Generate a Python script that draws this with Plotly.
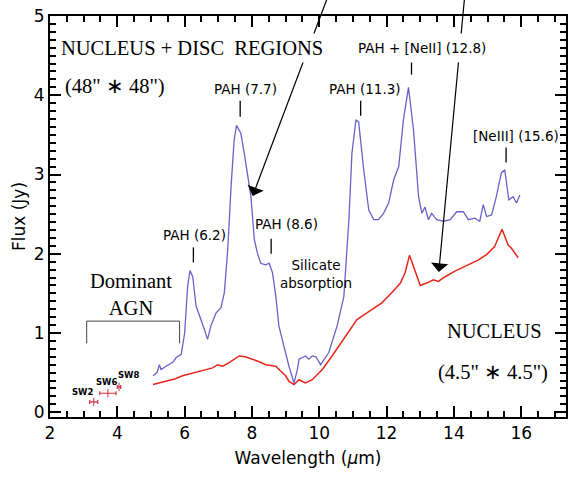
import plotly.graph_objects as go

# ---- data ----
disc_wl = [5.06, 5.18, 5.25, 5.30, 5.45, 5.65, 5.75, 5.90, 6.00, 6.09, 6.16, 6.24, 6.34, 6.49,
           6.59, 6.68, 6.78, 6.93, 7.08, 7.18, 7.28, 7.38, 7.47, 7.54, 7.67, 7.77, 7.87, 7.97,
           8.07, 8.16, 8.26, 8.41, 8.51, 8.61, 8.71, 8.80, 8.95, 9.10, 9.25, 9.35, 9.40, 9.49,
           9.59, 9.69, 9.79, 9.90, 10.04, 10.28, 10.53, 10.73, 10.88, 10.97, 11.09, 11.17,
           11.32, 11.47, 11.62, 11.76, 11.91, 12.06, 12.21, 12.36, 12.50, 12.65, 12.80, 12.95,
           13.05, 13.14, 13.24, 13.34, 13.49, 13.69, 13.89, 14.08, 14.28, 14.43, 14.62, 14.77,
           14.87, 14.97, 15.12, 15.26, 15.41, 15.51, 15.63, 15.76, 15.86, 15.96]
disc_flux = [0.46, 0.50, 0.60, 0.54, 0.58, 0.63, 0.69, 0.73, 1.00, 1.59, 1.79, 1.71, 1.34, 1.17,
             1.04, 0.92, 1.09, 1.25, 1.32, 1.51, 2.05, 2.85, 3.43, 3.62, 3.52, 3.27, 2.97, 2.72,
             2.18, 2.01, 1.88, 1.86, 1.88, 1.76, 1.46, 1.09, 0.83, 0.58, 0.37, 0.54, 0.67, 0.69,
             0.71, 0.67, 0.71, 0.70, 0.60, 0.75, 1.09, 1.46, 2.43, 3.27, 3.69, 3.66,
             3.06, 2.55, 2.43, 2.43, 2.51, 2.64, 2.93, 3.10, 3.69, 4.10, 3.56, 2.72,
             2.51, 2.59, 2.43, 2.51, 2.43, 2.41, 2.43, 2.53, 2.53, 2.43, 2.45, 2.41,
             2.62, 2.47, 2.49, 2.72, 3.02, 3.06, 2.68, 2.72, 2.64, 2.74]

nucleus_wl = [5.06, 5.25, 5.45, 5.70, 5.94, 6.20, 6.44, 6.65, 6.83, 6.98, 7.13, 7.30, 7.42, 7.62,
              7.80, 8.02, 8.20, 8.41, 8.71, 8.85, 9.00, 9.10, 9.25, 9.40, 9.59, 9.79, 10.09,
              10.38, 10.78, 11.12, 11.47, 11.86, 12.16, 12.41, 12.55, 12.68, 12.80, 13.00,
              13.19, 13.39, 13.54, 13.74, 14.03, 14.33, 14.72, 14.97, 15.21, 15.43, 15.61,
              15.71, 15.91]
nucleus_flux = [0.35, 0.37, 0.39, 0.42, 0.46, 0.49, 0.52, 0.54, 0.56, 0.60, 0.58, 0.62, 0.65, 0.71,
                0.70, 0.67, 0.64, 0.60, 0.58, 0.52, 0.46, 0.39, 0.35, 0.41, 0.37, 0.41, 0.54,
                0.71, 0.96, 1.17, 1.27, 1.38, 1.51, 1.63, 1.76, 1.98, 1.84, 1.60,
                1.63, 1.67, 1.65, 1.71, 1.78, 1.84, 1.92, 1.99, 2.09, 2.31, 2.11,
                2.07, 1.95]

sw_names = ["SW2", "SW6", "SW8"]
sw_wl = [3.30, 3.72, 4.05]
sw_halfwidth = [0.12, 0.24, 0.05]
sw_flux = [0.13, 0.24, 0.32]

line_labels = ["PAH (6.2)", "PAH (7.7)", "PAH (8.6)", "PAH (11.3)",
               "PAH + [NeII] (12.8)", "[NeIII] (15.6)"]
line_label_x = [6.29, 7.80, 9.04, 11.35, 13.04, 15.85]
line_label_y = [2.24, 4.08, 2.38, 4.08, 4.60, 3.49]
line_tick_x = [6.26, 7.65, 8.57, 11.23, 12.74, 15.55]
line_tick_top = [2.08, 3.93, 2.19, 3.93, 4.45, 3.34]
line_tick_bot = [1.89, 3.73, 2.00, 3.74, 4.26, 3.15]

x_ticks = [2, 4, 6, 8, 10, 12, 14, 16]
y_ticks = [0, 1, 2, 3, 4, 5]

SANS = "DejaVu Sans"
SERIF = "Liberation Serif"

fig = go.Figure()
fig.add_trace(go.Scatter(x=disc_wl, y=disc_flux, mode="lines",
                         line=dict(color="#6a62c8", width=1.3), showlegend=False))
fig.add_trace(go.Scatter(x=nucleus_wl, y=nucleus_flux, mode="lines",
                         line=dict(color="#e8261c", width=1.5), showlegend=False))
fig.add_trace(go.Scatter(x=sw_wl, y=sw_flux, mode="markers",
                         marker=dict(symbol="line-ns", size=6, color="#c83050",
                                     line=dict(width=1, color="#c83050")),
                         error_x=dict(type="data", array=sw_halfwidth, color="#d03040",
                                      thickness=1.2, width=2),
                         showlegend=False))

annotations = []
# arrows (drawn first so text boxes cover them)
annotations.append(dict(x=8.02, y=2.73, ax=10.34, ay=5.34, xref="x", yref="y",
                        axref="x", ayref="y", text="", showarrow=True, arrowhead=1,
                        arrowsize=2.4, arrowwidth=1.2, arrowcolor="black", standoff=0))
annotations.append(dict(x=13.55, y=1.77, ax=14.34, ay=5.34, xref="x", yref="y",
                        axref="x", ayref="y", text="", showarrow=True, arrowhead=1,
                        arrowsize=2.4, arrowwidth=1.2, arrowcolor="black", standoff=0))

for t, lx, ly in zip(line_labels, line_label_x, line_label_y):
    bg = "white" if "NeII]" in t else "rgba(0,0,0,0)"
    annotations.append(dict(x=lx, y=ly, text=t, showarrow=False, xref="x", yref="y",
                            font=dict(family=SANS, size=13.5, color="black"),
                            bgcolor=bg, borderpad=6 if bg == "white" else 0))

annotations.append(dict(x=6.23, y=4.60, text="NUCLEUS + DISC  REGIONS", showarrow=False,
                        font=dict(family=SERIF, size=20.5, color="black"),
                        bgcolor="white", borderpad=3))
annotations.append(dict(x=3.92, y=4.11, text="(48\" \u2217 48\")", showarrow=False,
                        font=dict(family=SERIF, size=20.5, color="black")))
annotations.append(dict(x=4.40, y=1.48, text="Dominant<br>AGN", showarrow=False,
                        font=dict(family=SERIF, size=20.5, color="black")))
annotations.append(dict(x=15.22, y=1.03, text="NUCLEUS", showarrow=False,
                        font=dict(family=SERIF, size=20.5, color="black")))
annotations.append(dict(x=15.17, y=0.50, text="(4.5\" \u2217 4.5\")", showarrow=False,
                        font=dict(family=SERIF, size=20.5, color="black")))
annotations.append(dict(x=9.90, y=1.75, text="Silicate<br>absorption", showarrow=False,
                        font=dict(family=SANS, size=13.5, color="black")))

sw_label_x = [2.98, 3.69, 4.34]
sw_label_y = [0.25, 0.38, 0.47]
for n, lx, ly in zip(sw_names, sw_label_x, sw_label_y):
    annotations.append(dict(x=lx, y=ly, text="<b>" + n + "</b>", showarrow=False,
                            font=dict(family=SANS, size=8.5, color="black")))

shapes = []
for tx, t0, t1 in zip(line_tick_x, line_tick_top, line_tick_bot):
    shapes.append(dict(type="line", x0=tx, x1=tx, y0=t0, y1=t1, xref="x", yref="y",
                       line=dict(color="black", width=1.3)))
shapes.append(dict(type="path", path="M 3.09 0.87 L 3.09 1.15 L 5.85 1.15 L 5.85 0.87",
                   xref="x", yref="y", line=dict(color="#444444", width=1)))

fig.update_layout(
    width=574, height=477,
    margin=dict(l=50, r=6, t=15, b=60),
    paper_bgcolor="white", plot_bgcolor="white",
    xaxis=dict(range=[2, 17.33], tickvals=x_ticks,
               showline=True, linecolor="black", linewidth=1.8, mirror="allticks",
               ticks="inside", ticklen=11, tickwidth=2, tickcolor="black",
               layer="above traces",
               showgrid=False, zeroline=False,
               tickfont=dict(family=SANS, size=17, color="black"),
               minor=dict(dtick=0.5, ticks="inside", ticklen=6,
                          tickwidth=1.6, tickcolor="black")),
    yaxis=dict(range=[-0.06, 5.0], tickvals=y_ticks,
               showline=True, linecolor="black", linewidth=1.8, mirror="allticks",
               ticks="inside", ticklen=11, tickwidth=2, tickcolor="black",
               layer="above traces",
               showgrid=False, zeroline=False,
               tickfont=dict(family=SANS, size=17, color="black"),
               ticksuffix="\u2009",
               minor=dict(dtick=0.1, ticks="inside", ticklen=6,
                          tickwidth=1.6, tickcolor="black")),
    annotations=annotations,
    shapes=shapes,
)
fig.update_xaxes(title=dict(text="Wavelength (<i>\u03bc</i>m)", standoff=10,
                            font=dict(family=SANS, size=17, color="black")))
fig.update_yaxes(title=dict(text="Flux (Jy)", standoff=4,
                            font=dict(family=SANS, size=17, color="black")))

fig.write_html("out.html")
